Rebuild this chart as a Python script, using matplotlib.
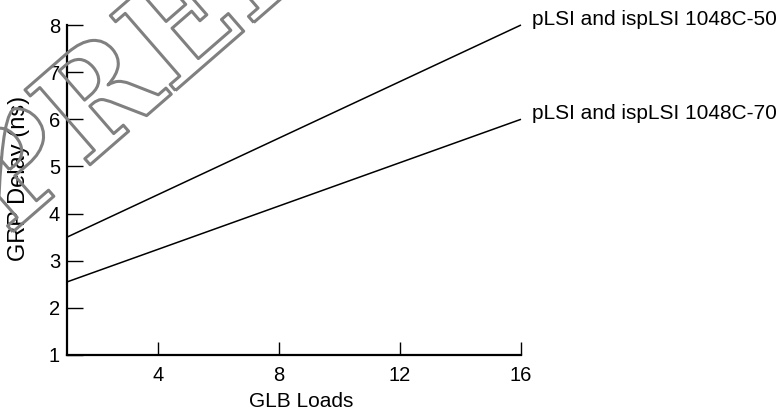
import matplotlib.pyplot as plt
import matplotlib.patheffects as pe

# GLB loads vs GRP delay (ns), straight-line characteristics
loads = [1, 16]
delay_50 = [3.5, 8.0]
delay_70 = [2.55, 6.0]
labels = ["pLSI and ispLSI 1048C-50", "pLSI and ispLSI 1048C-70"]
xticks = [4, 8, 12, 16]
yticks = [1, 2, 3, 4, 5, 6, 7, 8]

plt.rcParams['font.family'] = ['Liberation Sans', 'DejaVu Sans']

fig = plt.figure(figsize=(7.8, 4.12), dpi=100)
ax = fig.add_axes([67 / 780, 57 / 412, 454 / 780, 330 / 412])

for ys, lab in zip([delay_50, delay_70], labels):
    ax.plot(loads, ys, color='black', lw=1.1, solid_capstyle='butt', clip_on=False)
    ax.text(loads[-1] + 0.36, ys[-1], lab, fontsize=15, va='baseline', ha='left',
            clip_on=False)

ax.set_xlim(1, 16)
ax.set_ylim(1, 8)
ax.set_xticks(xticks)
ax.set_yticks(yticks)
ax.spines['top'].set_visible(False)
ax.spines['right'].set_visible(False)
for s in ['left', 'bottom']:
    ax.spines[s].set_linewidth(1.6)
ax.tick_params(axis='y', direction='in', length=11.5, width=1.0, labelsize=14.5, pad=5)
ax.tick_params(axis='x', direction='in', length=9.5, width=1.0, labelsize=14.5, pad=8)
ax.set_xlabel("GLB Loads", fontsize=15)
ax.set_ylabel("GRP Delay (ns)", fontsize=17)
ax.xaxis.set_label_coords(0.515, -0.112)
ax.yaxis.set_label_coords(-0.081, 0.536)

# outlined "PRELIMINARY" stamp across the upper left
fig.text(0.0103, 0.427, "PRELIMINARY", fontsize=98, family='DejaVu Serif', weight='bold',
         rotation=41, color='none', ha='left', va='baseline', rotation_mode='anchor',
         path_effects=[pe.withStroke(linewidth=2.2, foreground='#808080')])

fig.savefig("out.png", dpi=100)
